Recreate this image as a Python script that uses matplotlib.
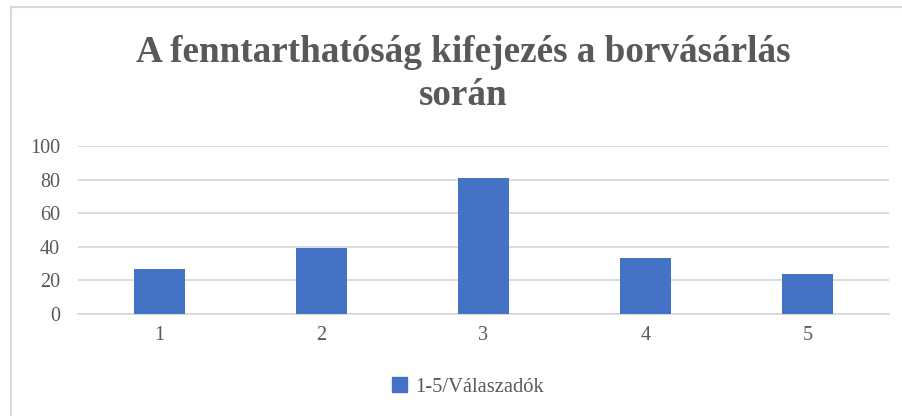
import matplotlib
matplotlib.use("Agg")
import matplotlib.pyplot as plt
from matplotlib.patches import Rectangle, Patch

categories = ["1", "2", "3", "4", "5"]
values = [27, 39, 81, 33, 24]
series_name = "1-5/Válaszadók"
title = "A fenntarthatóság kifejezés a borvásárlás\nsorán"
yticks = [0, 20, 40, 60, 80, 100]

plt.rcParams['font.family'] = ['Liberation Serif', 'DejaVu Serif']
gray = "#595959"
grid = "#d9d9d9"
blue = "#4472C4"

fig = plt.figure(figsize=(9.03, 4.16), dpi=100)
fig.patches.append(Rectangle((11/903, -0.1), 1.2, (416-7)/416 + 0.1, transform=fig.transFigure,
                             fill=False, edgecolor="#d9d9d9", linewidth=1.5))
ax = fig.add_axes([78/903, 102.3/416, (889-78)/903, 167.4/416])
x = list(range(len(categories)))
ax.bar(x, values, width=0.315, color=blue, zorder=3)
ax.set_xlim(-0.5, len(categories) - 0.5)
ax.set_ylim(0, 100)
ax.set_yticks(yticks)
ax.set_xticks(x)
ax.set_xticklabels(categories)
ax.yaxis.grid(True, color=grid, linewidth=1.3, zorder=0)
for s in ["top", "right", "left"]:
    ax.spines[s].set_visible(False)
ax.spines["bottom"].set_color(grid)
ax.spines["bottom"].set_linewidth(1.3)
ax.tick_params(axis="both", length=0, labelsize=14.5, colors=gray)
ax.tick_params(axis="y", pad=13)
ax.tick_params(axis="x", pad=9)

fig.text(463/903, 1 - 74/416, title, ha="center", va="center", fontsize=26.7, fontweight="bold",
         color=gray, linespacing=1.32)

handles = [Patch(facecolor=blue, edgecolor=blue)]
fig.legend(handles, [series_name], loc="center", bbox_to_anchor=(468/903, 1 - 387/416),
           frameon=False, fontsize=14.8, labelcolor=gray, handlelength=0.7, handleheight=0.7,
           handletextpad=0.4)

fig.savefig("out.png", dpi=100)
